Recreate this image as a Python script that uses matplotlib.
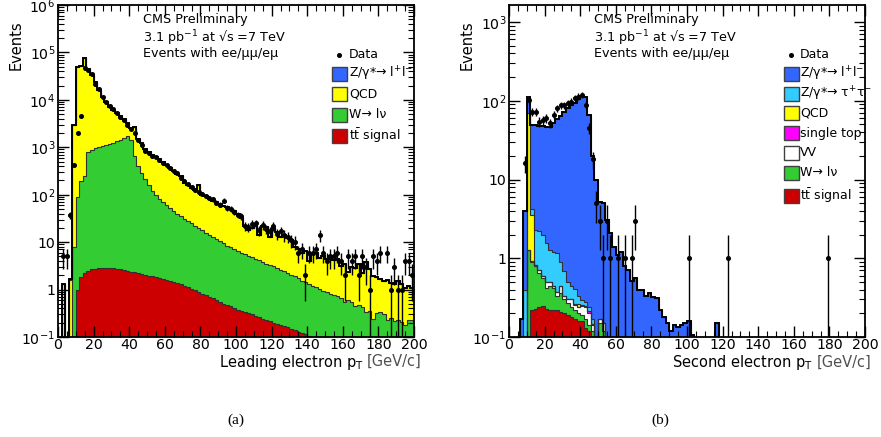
import numpy as np
import matplotlib
matplotlib.use("Agg")
import matplotlib.pyplot as plt
from matplotlib.patches import Rectangle
from matplotlib.lines import Line2D
from matplotlib.ticker import MultipleLocator, LogLocator, NullFormatter

# ---------------- data (2 GeV/c bins, 0-200) ----------------
bin_edges = np.arange(0, 202, 2)

# panel (a): leading electron pT
left_tt = [0, 0, 0, 0, 0, 1.0, 1.8, 2.2, 2.5, 2.65, 2.75, 2.8, 2.85, 2.85, 2.85, 2.8, 2.75, 2.7, 2.6, 2.5,
           2.4, 2.3, 2.2, 2.1, 2.0, 1.95, 1.9, 1.8, 1.75, 1.65, 1.6, 1.5, 1.45, 1.35, 1.3, 1.2, 1.12, 1.05, 0.98, 0.9,
           0.8, 0.75, 0.7, 0.65, 0.6, 0.55, 0.5, 0.47, 0.44, 0.41, 0.38, 0.36, 0.34, 0.32, 0.3, 0.28, 0.26, 0.245, 0.23, 0.215,
           0.2, 0.19, 0.18, 0.17, 0.16, 0.15, 0.14, 0.13, 0.12, 0.115, 0.105, 0.1, 0.095, 0.09, 0.085, 0.08, 0.076, 0.072, 0.068, 0.064,
           0.06, 0.057, 0.054, 0.051, 0.048, 0.045, 0.043, 0.041, 0.039, 0.037, 0.035, 0.033, 0.031, 0.03, 0.028, 0.027, 0.026, 0.025, 0.024, 0.023]
left_w = [0, 0, 0, 0, 8, 90, 190, 250, 800, 880, 950, 1000, 1050, 1100, 1150, 1250, 1350, 1450, 1600, 1750,
          1400, 650, 400, 280, 210, 160, 120, 95, 80, 68, 58, 50, 44, 38, 34, 30, 27, 24, 21, 19,
          17, 15, 13.5, 12, 11, 10, 9, 8, 7.3, 6.8, 6.2, 5.6, 5.4, 4.9, 4.5, 4.2, 3.9, 3.5, 3.3, 3.1,
          2.9, 2.7, 2.4, 2.3, 2.1, 1.9, 1.75, 1.6, 1.4, 1.35, 1.2, 1.1, 1.05, 0.95, 0.85, 0.8, 0.75, 0.7, 0.65, 0.6,
          0.5, 0.55, 0.48, 0.4, 0.42, 0.38, 0.3, 0.31, 0.2, 0.28, 0.3, 0.27, 0.2, 0.22, 0.19, 0.2, 0.18, 0.15, 0.2, 0.2]
left_qcd = [0, 1.3, 0, 1.6, 2990, 49900, 51800, 75750, 44200, 32100, 23050, 15000, 10450, 7900, 5850, 4950, 3950, 3050, 2300, 1450,
            1200, 2050, 1100, 840, 630, 620, 580, 525, 480, 410, 360, 318, 265, 231, 215, 149, 132, 115, 103, 140,
            82, 76, 68, 62, 58, 53, 48.5, 46.5, 42.3, 38.8, 33.4, 26, 16.3, 12.8, 15.2, 17.5, 9.8, 18.2, 17.5, 9.7,
            16.9, 13.1, 10.4, 11.5, 9.7, 8.9, 6.1, 5.3, 4.5, 5, 2.7, 4.3, 4.9, 3.5, 4.1, 3.6, 4.2, 3.4, 3.8, 2.55,
            2.95, 1.7, 2.5, 2.35, 3.05, 1.8, 3.45, 2.35, 1.65, 1.48, 1.37, 1.2, 1.37, 1.15, 1.08, 1.27, 1.1, 0.93, 0.98, 0.85]
left_zll = [0, 0, 0, 0.1, 0, 0, 0, 0, 0, 0, 0, 0, 0, 0, 0, 0, 0, 0, 0, 0,
            0, 0, 0, 80, 60, 0, 0, 0, 0, 0] + [0.0] * 70
left_data = [0, 5, 5, 37, 420, 2000, 4600, 48000, 42000, 35000, 22000, 16600, 11700, 9000, 7500, 6300, 5400, 4400, 3700, 3000,
             2400, 2000, 1400, 1100, 820, 760, 660, 610, 540, 470, 420, 360, 320, 290, 230, 190, 165, 145, 125, 115,
             105, 95, 85, 80, 68, 62, 75, 53, 50, 44, 38, 36, 22, 21, 24, 25, 18, 23, 19, 17,
             22, 15, 17, 14, 13, 11, 10, 6, 7, 2, 6, 6, 7, 14, 6, 4, 5, 5, 6, 4,
             2, 5, 4, 5, 2, 5, 3, 1, 5, 4, 6, 0, 6, 1, 3, 1, 1, 4, 4, 2]

# panel (b): second electron pT
right_tt = [0, 0, 0, 0, 0, 0, 0.22, 0.23, 0.24, 0.25, 0.23, 0.22, 0.22, 0.22, 0.21, 0.2, 0.19, 0.18, 0.17, 0.16,
            0.16, 0.13, 0.12, 0.1, 0.05, 0.06, 0.05] + [0.0] * 73
right_w = [0, 0, 0, 0, 0.1, 1.26, 0.68, 0.57, 0.41, 0.31, 0.19, 0.23, 0.2, 0.11, 0.15, 0.1, 0.08, 0.06, 0.05, 0.04,
           0.03, 0.04, 0.02, 0.02, 0.03, 0.09, 0.07] + [0.0] * 73
right_vv = [0, 0, 0, 0, 0, 0, 0.02, 0.02, 0.05, 0.04, 0.08, 0.05, 0.03, 0.04, 0.09, 0.03, 0.03, 0.06, 0.035, 0.04,
            0.06, 0.07, 0.06, 0.02, 0.01, 0.02, 0.03] + [0.0] * 73
right_st = [0, 0, 0, 0, 0, 0, 0, 0, 0, 0, 0, 0, 0, 0, 0, 0, 0, 0, 0.008, 0,
            0.006, 0.01, 0.012, 0.008] + [0.0] * 76
right_qcd = [0, 0, 0, 0, 0, 69, 2.6, 0, 0, 0, 0, 0, 0, 0, 0, 0, 0, 0, 0, 0.02] + [0.0] * 80
right_ztt = [0, 0, 0, 0, 0.3, 0, 0.7, 1.48, 1.5, 1.4, 1.05, 0.76, 0.75, 0.78, 0.45, 0.35, 0.2, 0.15, 0.14, 0.07,
             0.04, 0.03, 0.03, 0.02, 0.01] + [0.0] * 75
right_zll = [0, 0, 0, 0.17, 3.6, 40, 44.8, 46.7, 45.8, 46, 45.5, 45.7, 50.8, 56.8, 64, 71.3, 79.5, 87.5, 94.6, 104.7,
             114.7, 109.8, 64.8, 19.8, 9.9, 5.0, 4.85, 3.1, 2.1, 1.4, 1.1, 1.2, 0.8, 0.7, 0.52, 0.56, 0.4, 0.4, 0.33, 0.36,
             0.32, 0.31, 0.22, 0.18, 0.15, 0.12, 0.14, 0.135, 0.14, 0.15, 0.16, 0.107, 0.03, 0.02, 0.02, 0.02, 0.01, 0.01, 0.15, 0.01] + [0.0] * 40
right_data = [0, 0, 0, 0, 16, 103, 73, 73, 54, 57, 60, 52, 66, 80, 88, 88, 93, 97, 108, 113,
              118, 88, 45, 18, 5, 3, 1, 3, 1, 0, 1, 0, 1, 0, 1, 3, 0, 0, 0, 0,
              0, 0, 0, 0, 0, 0, 0, 0, 0, 0, 1, 0, 0, 0, 0, 0, 0, 0, 0, 0,
              0, 1, 0, 0, 0, 0, 0, 0, 0, 0, 0, 0, 0, 0, 0, 0, 0, 0, 0, 0,
              0, 0, 0, 0, 0, 0, 0, 0, 0, 1, 0, 0, 0, 0, 0, 0, 0, 0, 0, 0]

C_ZLL, C_ZTT, C_QCD, C_ST, C_VV, C_W, C_TT = "#3366ff", "#33ccff", "#ffff00", "#ff00ff", "#ffffff", "#33cc33", "#cc0000"

lab_zll = "Z/γ*→ l$^{+}$l$^{-}$"
lab_ztt = "Z/γ*→ τ$^{+}$τ$^{-}$"
lab_tt = r"t$\bar{\mathrm{t}}$ signal"
lab_w = "W→ lν"

# ---------------- figure ----------------
W, H = 881, 437
fig = plt.figure(figsize=(W / 100, H / 100), dpi=100)


def px_axes(x0, y0, x1, y1):
    return fig.add_axes([x0 / W, 1 - y1 / H, (x1 - x0) / W, (y1 - y0) / H])


def fx(x):
    return x / W


def fy(y):
    return 1 - y / H


FLOOR = 1e-3


def draw_panel(ax, comps, colors, data, ytop, yticks, ylabels):
    comps = np.array(comps, dtype=float)
    cum = np.cumsum(comps, axis=0)
    for i in reversed(range(len(comps))):
        ax.stairs(np.maximum(cum[i], FLOOR), bin_edges, baseline=FLOOR, fill=True,
                  facecolor=colors[i], edgecolor="none", lw=0)
    for i in range(len(comps)):
        ax.stairs(np.maximum(cum[i], FLOOR), bin_edges, baseline=None, color="#303030", lw=0.8)
    ax.stairs(np.maximum(cum[-1], FLOOR), bin_edges, baseline=None, color="black", lw=1.4)
    d = np.array(data, dtype=float)
    centers = 0.5 * (bin_edges[1:] + bin_edges[:-1])
    m = d > 0
    err = np.sqrt(d[m])
    lo = np.minimum(err, d[m] - 1e-4)
    ax.errorbar(centers[m], d[m], yerr=[lo, err], fmt="o", ms=2.6, color="black",
                ecolor="black", elinewidth=1.0, capsize=0, zorder=5)
    ax.set_yscale("log")
    ax.set_xlim(0, 200)
    ax.set_ylim(0.1, ytop)
    ax.set_yticks(yticks)
    ax.set_yticklabels(ylabels)
    ax.yaxis.set_minor_locator(LogLocator(base=10, subs=np.arange(2, 10), numticks=20))
    ax.yaxis.set_minor_formatter(NullFormatter())
    ax.xaxis.set_major_locator(MultipleLocator(20))
    ax.xaxis.set_minor_locator(MultipleLocator(5))
    ax.tick_params(which="both", direction="in", top=True, right=True, labelsize=10.2)
    ax.tick_params(axis="x", which="major", pad=1.0)
    ax.tick_params(axis="y", which="major", pad=2)
    ax.tick_params(which="major", length=8, width=1)
    ax.tick_params(which="minor", length=4, width=0.8)
    for s in ax.spines.values():
        s.set_linewidth(1.3)


axL = px_axes(58, 5, 414, 337)
draw_panel(axL, [left_tt, left_w, left_qcd, left_zll], [C_TT, C_W, C_QCD, C_ZLL], left_data,
           1e6, [0.1, 1, 10, 1e2, 1e3, 1e4, 1e5, 1e6],
           ["$10^{-1}$", "1", "10", "$10^{2}$", "$10^{3}$", "$10^{4}$", "$10^{5}$", "$10^{6}$"])

axR = px_axes(509, 5, 865, 337)
draw_panel(axR, [right_tt, right_w, right_vv, right_st, right_qcd, right_ztt, right_zll],
           [C_TT, C_W, C_VV, C_ST, C_QCD, C_ZTT, C_ZLL], right_data,
           1644, [0.1, 1, 10, 1e2, 1e3],
           ["$10^{-1}$", "1", "10", "$10^{2}$", "$10^{3}$"])

# header texts
for x0 in (143, 594):
    fig.text(fx(x0), fy(20), "CMS Preliminary", fontsize=9.2, va="center")
    fig.text(fx(x0), fy(38), "3.1 pb$^{-1}$ at √s =7 TeV", fontsize=9.2, va="center")
    fig.text(fx(x0), fy(53), "Events with ee/μμ/eμ", fontsize=9.2, va="center")


def legend(xbox, xtext, entries):
    fig.add_artist(Line2D([fx(xbox + 7)], [fy(55)], marker="o", ms=2.6, color="black",
                          transform=fig.transFigure))
    fig.text(fx(xtext), fy(55), "Data", fontsize=9, va="center")
    for yc, col, lab in entries:
        fig.add_artist(Rectangle((fx(xbox), fy(yc + 7)), 15 / W, 14 / H, transform=fig.transFigure,
                                 facecolor=col, edgecolor="#404040", lw=1.0))
        fig.text(fx(xtext), fy(yc), lab, fontsize=9, va="center")


legend(332, 349, [(74, C_ZLL, lab_zll), (94, C_QCD, "QCD"), (115, C_W, lab_w), (136, C_TT, lab_tt)])
legend(784, 800, [(74, C_ZLL, lab_zll), (94, C_ZTT, lab_ztt), (113, C_QCD, "QCD"),
                  (133, C_ST, "single top"), (153, C_VV, "VV"), (173, C_W, lab_w), (196, C_TT, lab_tt)])

# axis labels
fig.text(fx(16), fy(45), "Events", rotation=90, fontsize=10.5, ha="center", va="center")
fig.text(fx(467), fy(45), "Events", rotation=90, fontsize=10.5, ha="center", va="center")
fig.text(fx(364), fy(362), "Leading electron p$_{\\mathrm{T}}$", fontsize=10.5, ha="right", va="center")
fig.text(fx(367), fy(361), "[GeV/c]", fontsize=10.5, ha="left", va="center", color="#505050")
fig.text(fx(813), fy(363), "Second electron p$_{\\mathrm{T}}$", fontsize=10.5, ha="right", va="center")
fig.text(fx(817), fy(362), "[GeV/c]", fontsize=10.5, ha="left", va="center", color="#505050")

# captions
fig.text(fx(236), fy(420), "(a)", fontsize=11, family="Liberation Serif", ha="center", va="center")
fig.text(fx(660), fy(420), "(b)", fontsize=11, family="Liberation Serif", ha="center", va="center")

fig.savefig("out.png", dpi=100)
